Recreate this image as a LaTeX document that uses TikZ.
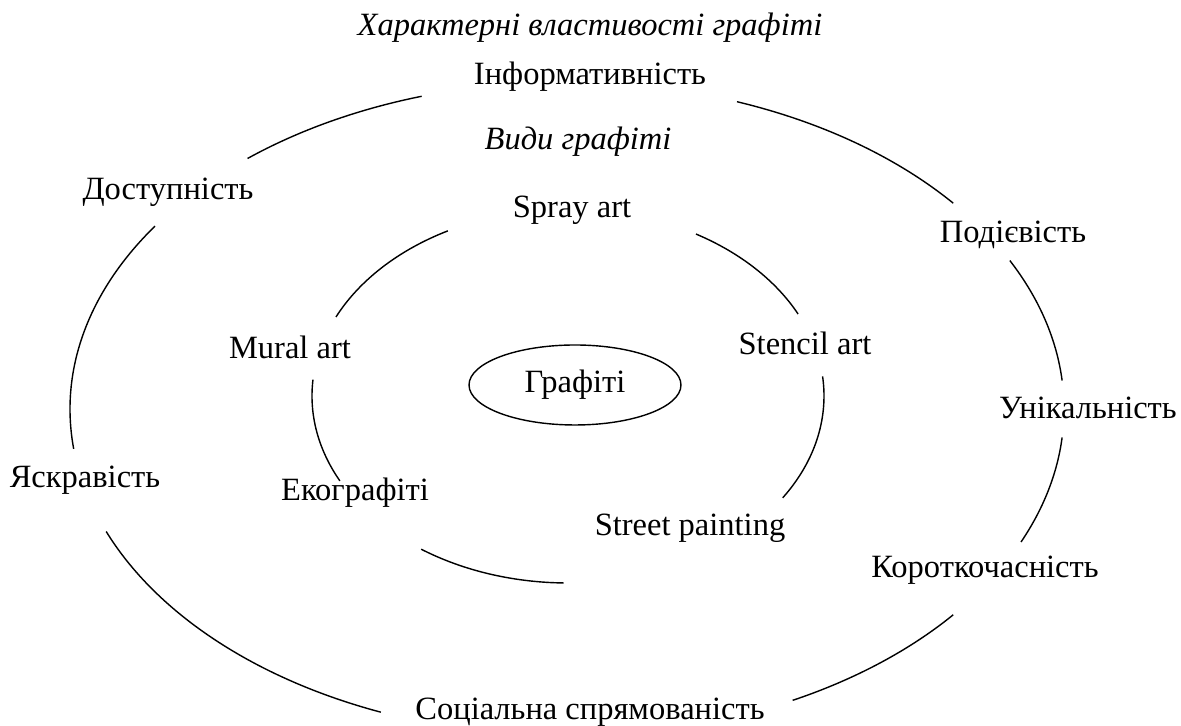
\documentclass[tikz,border=0pt]{standalone}
\usepackage{fontspec}
\setmainfont{Liberation Serif}
\usepackage{tikz}
\usetikzlibrary{shapes.geometric}

\begin{document}
\begin{tikzpicture}[
  x=0.02cm,y=0.02cm,
  font=\fontsize{18.5}{22}\selectfont,
  lbl/.style={inner sep=1pt,anchor=center},
  head/.style={lbl,font=\fontsize{18.5}{22}\selectfont\itshape},
  ring/.style={draw=black,line width=0.8pt},
  core/.style={draw=black,line width=0.8pt,ellipse,minimum width=4.24cm,
               minimum height=1.6cm,inner sep=0pt},
]
\useasboundingbox (0,0) rectangle (1181,726);
% centres of the two rings
\coordinate (outc) at (567,317);
\coordinate (inc) at (568,330);
% outer ring
\node[head] (title) at (590,698) {Характерні властивості графіті};
\node[lbl] (inf) at (590,649) {Інформативність};
\node[lbl] (pod) at (1013,491) {Подієвість};
\node[lbl] (unik) at (1088,318) {Унікальність};
\node[lbl] (krt) at (985,156) {Короткочасність};
\node[lbl] (soc) at (590,14) {Соціальна спрямованість};
\node[lbl] (yask) at (85,246) {Яскравість};
\node[lbl] (dost) at (168,534) {Доступність};
\foreach \a/\b in {107/130,39/70,5/27,-24/-5,-63/-39,-158/-112,146/187}
  \draw[ring] (outc) ++(\a:497 and 327)
    arc[start angle=\a,end angle=\b,x radius=497,y radius=327];
% inner ring
\node[head] (vydy) at (578,584) {Види графіті};
\node[lbl] (spray) at (572,516) {Spray art};
\node[lbl] (stencil) at (805,383) {Stencil art};
\node[lbl] (street) at (690,198) {Street painting};
\node[lbl] (eko) at (355,233) {Екографіті};
\node[lbl] (mural) at (290,379) {Mural art};
\foreach \a/\b in {118/155,26/60,-33/6,-125/-91,175/207}
  \draw[ring] (inc) ++(\a:256 and 187)
    arc[start angle=\a,end angle=\b,x radius=256,y radius=187];
% centre
\node[core] (graf) at (575,341) {Графіті};
\end{tikzpicture}
\end{document}
